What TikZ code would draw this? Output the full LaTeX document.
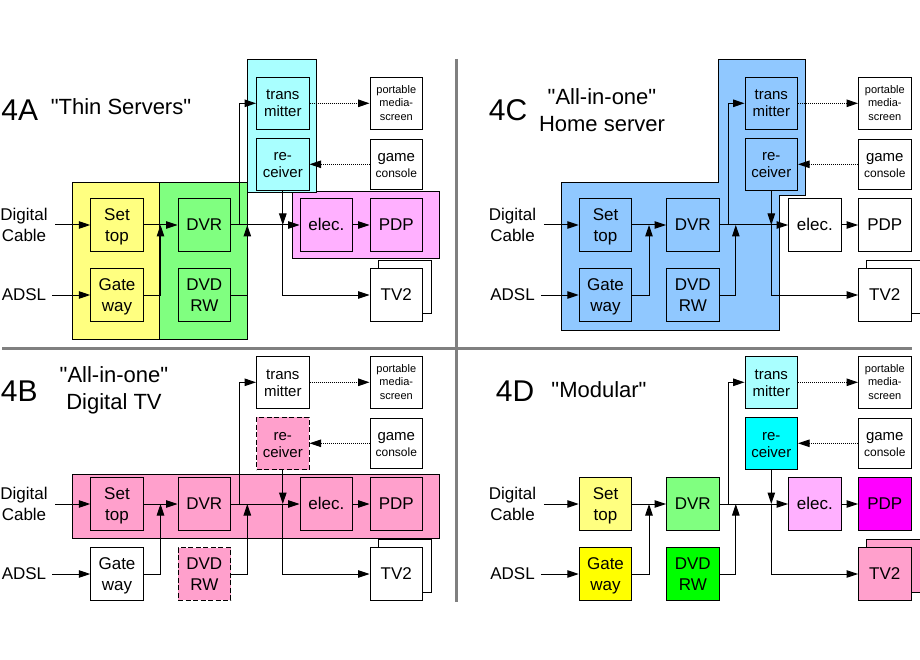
\documentclass[tikz,border=0pt]{standalone}
\usepackage{fontspec}
\setmainfont{Liberation Sans}
\newfontfamily\rawfont{Liberation Sans}
\usetikzlibrary{arrows.meta}
\definecolor{cyel}{HTML}{FFFF80}
\definecolor{cgrn}{HTML}{80FF80}
\definecolor{ccyn}{HTML}{A9FFFF}
\definecolor{cmag}{HTML}{FFB0FF}
\definecolor{cblu}{HTML}{90C8FF}
\definecolor{cpnk}{HTML}{FFA0CC}
\definecolor{cdiv}{HTML}{808080}
\definecolor{fyel}{HTML}{FFFF00}
\definecolor{fgrn}{HTML}{00FF00}
\definecolor{fcyn}{HTML}{00FFFF}
\definecolor{fmag}{HTML}{FF00FF}
\newcommand{\fsa}{\fontsize{17}{21}\selectfont}
\newcommand{\fsb}{\fontsize{15}{17}\selectfont}
\newcommand{\fsc}{\fontsize{11}{13.3}\selectfont}
\newcommand{\fsd}{\rawfont\fontsize{22}{27}\selectfont}
\newcommand{\fse}{\fontsize{30}{30}\selectfont}
\newcommand{\fsg}{\fontsize{15}{16}\selectfont}
\tikzset{
  hd/.style 2 args={execute at begin node={\rule{0pt}{#1pt}},execute at end node={\rule[-#2pt]{0pt}{0pt}}},
  box/.style={draw=black,line width=1pt,fill=white,inner sep=0pt,align=center,minimum width=52.5pt,minimum height=52.5pt},
  boxa/.style={box,font=\fsa,hd={15.5}{4}},
  boxt/.style={box,font=\fsa,hd={37.5}{4}},
  boxb/.style={box,font=\fsb,hd={32}{4.6}},
  boxc/.style={box,font=\fsc,hd={37.3}{3.6}},
  boxg/.style={box,font=\fsg,hd={30}{4.2},minimum height=50pt},
  region/.style={draw=black,line width=1pt},
  lbl/.style={inner ysep=0pt,inner xsep=6pt,align=center,font=\fsa,hd={15.5}{4}},
  lblt/.style={inner ysep=0pt,inner xsep=7.5pt,align=center,font=\fsa,hd={37.5}{4}},
  head/.style={inner sep=0pt,align=center,font=\fse},
  ttl/.style={inner sep=0pt,align=center,font=\fsd},
  wire/.style={draw=black,line width=1pt},
  arr/.style={wire,-{Triangle[length=11.5pt,width=7.5pt]}},
  darr/.style={arr,dash pattern=on 1pt off 1pt},
  dbox/.style={dash pattern=on 5pt off 2.5pt},
  sSet/.style={},sGate/.style={},sDvr/.style={},sDvd/.style={},sTr/.style={},sRc/.style={},
  sEl/.style={},sPdp/.style={},sTv/.style={},sBack/.style={}
}
\newcommand{\panel}[3]{%
\begin{scope}[shift={(#2,#3)}]
  \node[box,minimum width=53pt,minimum height=53pt,sBack] (#1back) at (404.5,286.5) {};
  \node[boxt,sSet] (#1set) at (117,225) {Set\\top};
  \node[boxt,sGate] (#1gate) at (117,295) {Gate\\way};
  \node[boxa,sDvr] (#1dvr) at (204.3,225) {DVR};
  \node[boxt,sDvd] (#1dvd) at (204.3,295) {DVD\\RW};
  \node[boxb,sTr] (#1tr) at (282.8,103.3) {trans\\mitter};
  \node[boxb,sRc] (#1rc) at (282.8,164.3) {re-\\ceiver};
  \node[boxc] (#1pm) at (396.3,103.3) {portable\\media-\\screen};
  \node[boxg] (#1gc) at (396.3,164.3) {game\\{\fontsize{12}{16}\selectfont console}};
  \node[boxa,sEl] (#1el) at (326.3,225) {elec.};
  \node[boxa,sPdp] (#1pdp) at (396.3,225) {PDP};
  \node[boxa,sTv] (#1tv) at (396.3,295) {TV2};
  \node[lblt] (#1dc) at (24,225) {Digital\\Cable};
  \node[lbl] (#1ad) at (24,295) {ADSL};
  \coordinate (#1j1) at (160.5,225);
  \coordinate (#1j2) at (239.5,225);
  \coordinate (#1j4) at (247.3,225);
  \coordinate (#1j3) at (282.8,225);
  \draw[arr] (#1dc.east |- #1set.west) -- (#1set);
  \draw[arr] (#1ad) -- (#1gate);
  \draw[arr] (#1set) -- (#1dvr);
  \draw[arr] (#1gate) -| (#1j1);
  \draw[arr] (#1dvr) -- (#1el);
  \draw[arr] (#1j2) |- (#1tr);
  \draw[arr] (#1dvd) -| (#1j4);
  \draw[arr] (#1rc) -- (#1j3);
  \draw[arr] (#1j3) |- (#1tv);
  \draw[arr] (#1el) -- (#1pdp);
  \draw[darr] (#1tr) -- (#1pm);
  \draw[darr] (#1gc) -- (#1rc);
\end{scope}}
\begin{document}
\begin{tikzpicture}[x=1pt,y=-1pt]
\clip (0,0) rectangle (920,660);
\fill[white] (0,0) rectangle (920,660);
% dividers
\coordinate (vt) at (456.7,59);
\coordinate (vb) at (456.7,602);
\coordinate (hl) at (2,348);
\coordinate (hr) at (912,348);
\draw[cdiv,line width=3pt] (vt) -- (vb);
\draw[cdiv,line width=3pt] (hl) -- (hr);
% 4A regions
\draw[region,fill=cyel] (72.3,182.3) rectangle (159.3,339.3);
\draw[region,fill=cgrn] (159.3,182.3) rectangle (247.3,339.3);
\draw[region,fill=cmag] (292.3,191.3) rectangle (439.3,258.3);
\draw[region,fill=ccyn] (247.3,59.3) rectangle (316.3,192.3);
% 4C region
\draw[region,fill=cblu] (561.3,182.3) -- (718.3,182.3) -- (718.3,59.3) -- (805.3,59.3) -- (805.3,195.3) -- (779.3,195.3) -- (779.3,330.3) -- (561.3,330.3) -- cycle;
% 4B region
\draw[region,fill=cpnk] (72.3,474.3) rectangle (439.3,538.3);
% panels
\begin{scope}[sSet/.style={fill=cyel},sGate/.style={fill=cyel},sDvr/.style={fill=cgrn},sDvd/.style={fill=cgrn},sTr/.style={fill=ccyn},sRc/.style={fill=ccyn},sEl/.style={fill=cmag},sPdp/.style={fill=cmag}]
\panel{a}{0}{0}
\end{scope}
\begin{scope}[sSet/.style={fill=cpnk},sDvr/.style={fill=cpnk},sDvd/.style={fill=cpnk,dbox},sRc/.style={fill=cpnk,dbox},sEl/.style={fill=cpnk},sPdp/.style={fill=cpnk}]
\panel{b}{0}{279}
\end{scope}
\begin{scope}[sSet/.style={fill=cblu},sGate/.style={fill=cblu},sDvr/.style={fill=cblu},sDvd/.style={fill=cblu},sTr/.style={fill=cblu},sRc/.style={fill=cblu},sBack/.style={xshift=4pt,minimum width=61pt}]
\panel{c}{488.5}{0}
\end{scope}
\begin{scope}[sSet/.style={fill=cyel},sGate/.style={fill=fyel},sDvr/.style={fill=cgrn},sDvd/.style={fill=fgrn},sTr/.style={fill=ccyn},sRc/.style={fill=fcyn},sEl/.style={fill=cmag},sPdp/.style={fill=fmag},sTv/.style={fill=cpnk},sBack/.style={fill=cpnk,xshift=4pt,minimum width=61pt}]
\panel{d}{488.5}{279}
\end{scope}
% titles
\node[head] (ta) at (19.7,110) {4A};
\node[ttl] (tta) at (121,107) {"Thin Servers"};
\node[head] (tb) at (19.3,391) {4B};
\node[ttl] (ttb) at (114,390) {"All-in-one"\\Digital TV};
\node[head] (tc) at (508,110) {4C};
\node[ttl] (ttc) at (602,110.5) {"All-in-one"\\Home server};
\node[head] (td) at (515,391) {4D};
\node[ttl] (ttd) at (599,390) {"Modular"};
\end{tikzpicture}
\end{document}
